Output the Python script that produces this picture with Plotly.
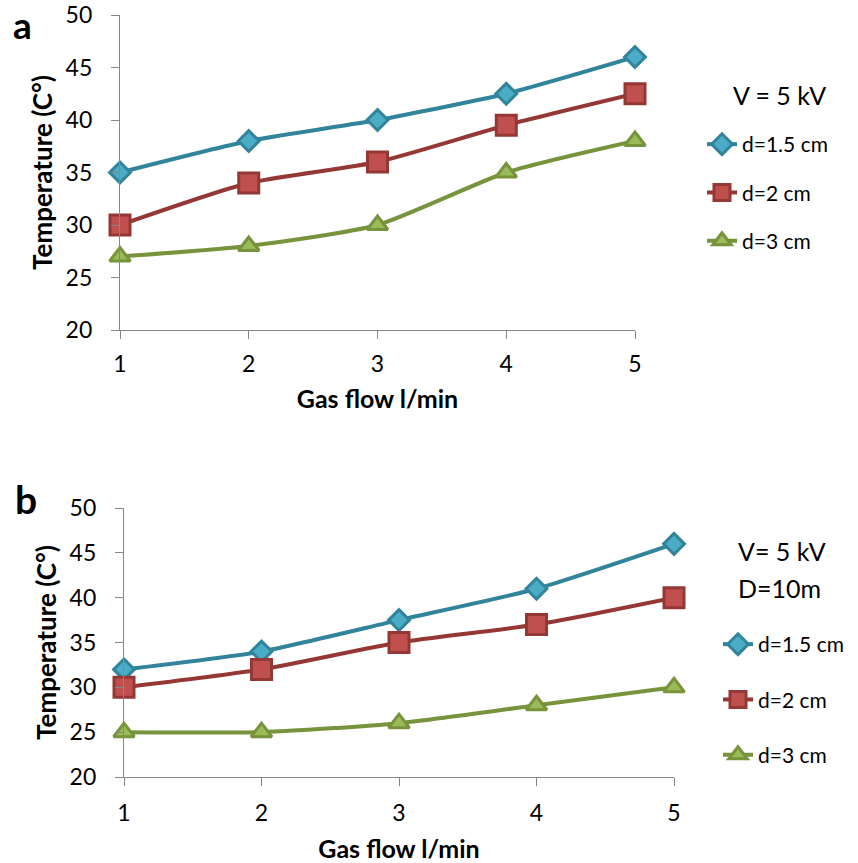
import plotly.graph_objects as go

gas_flow = [1, 2, 3, 4, 5]
series_names = ["d=1.5 cm", "d=2 cm", "d=3 cm"]

a_d15 = [35, 38, 40, 42.5, 46]
a_d2 = [30, 34, 36, 39.5, 42.5]
a_d3 = [27, 28, 30, 35, 38]

b_d15 = [32, 34, 37.5, 41, 46]
b_d2 = [30, 32, 35, 37, 40]
b_d3 = [25, 25, 26, 28, 30]

y_ticks = [20, 25, 30, 35, 40, 45, 50]

FONT = "Lato"
line_colors = ["#31849B", "#953735", "#77933C"]
fill_colors = ["#4BACC6", "#C0504D", "#9BBB59"]
symbols = ["diamond", "square", "triangle-up"]
sizes = [16, 20, 18]

W, H = 858, 863

def px(x):
    return x / W

def py(y):
    return 1 - y / H

fig = go.Figure()

def add_panel(data, xa, ya, legend):
    for i, (name, vals) in enumerate(zip(series_names, data)):
        fig.add_trace(go.Scatter(
            x=gas_flow, y=vals, name=name, mode="lines+markers",
            xaxis=xa, yaxis=ya, legend=legend, legendgroup=legend + str(i),
            line=dict(color=line_colors[i], width=4, shape="spline", smoothing=0.6),
            marker=dict(symbol=symbols[i], size=sizes[i], color=fill_colors[i],
                        line=dict(color=line_colors[i], width=3)),
            cliponaxis=False,
        ))

add_panel([a_d15, a_d2, a_d3], "x", "y", "legend")
add_panel([b_d15, b_d2, b_d3], "x2", "y2", "legend2")

axis_common = dict(showline=True, linecolor="#868686", linewidth=1.3,
                   ticks="outside", tickcolor="#868686", ticklen=8, tickwidth=1.3,
                   showgrid=False, zeroline=False, automargin=False,
                   tickfont=dict(family=FONT, size=23, color="#000"))

def x_title(standoff):
    return dict(text="<b>Gas flow l/min</b>", font=dict(family=FONT, size=25, color="#000"),
                standoff=standoff)

ya = dict(axis_common, range=[20, 50], tickvals=y_ticks,
          title=dict(text="<b>Temperature (C°)</b>", font=dict(family=FONT, size=26, color="#000"),
                     standoff=5))

fig.update_layout(
    width=W, height=H,
    margin=dict(l=0, r=0, t=0, b=0),
    paper_bgcolor="white", plot_bgcolor="white",
    showlegend=True,
    xaxis=dict(axis_common, range=[1, 5], tickvals=gas_flow, title=x_title(14),
               domain=[px(120), px(635)], anchor="y", ticklabelstandoff=5),
    yaxis=dict(ya, domain=[py(330), py(15)], anchor="x", ticklabelstandoff=14),
    xaxis2=dict(axis_common, range=[1, 5], tickvals=gas_flow, title=x_title(19),
                domain=[px(124), px(674)], anchor="y2", ticklabelstandoff=7),
    yaxis2=dict(ya, domain=[py(777), py(508)], anchor="x2", ticklabelstandoff=14),
    legend=dict(x=px(702), y=py(124), xanchor="left", yanchor="top",
                font=dict(family=FONT, size=21, color="#000"),
                tracegroupgap=18, bgcolor="rgba(0,0,0,0)", itemsizing="trace"),
    legend2=dict(x=px(718), y=py(624), xanchor="left", yanchor="top",
                 font=dict(family=FONT, size=21, color="#000"),
                 tracegroupgap=25, bgcolor="rgba(0,0,0,0)", itemsizing="trace"),
    annotations=[
        dict(text="<b>a</b>", x=px(22), y=1, xref="paper", yref="paper",
             xanchor="center", yanchor="top",
             showarrow=False, font=dict(family=FONT, size=37, color="#000")),
        dict(text="<b>b</b>", x=px(26), y=py(499), xref="paper", yref="paper",
             xanchor="center", yanchor="middle",
             showarrow=False, font=dict(family=FONT, size=39, color="#000")),
        dict(text="V = 5 kV", x=px(731), y=py(95), xref="paper", yref="paper",
             xanchor="left", yanchor="middle", showarrow=False,
             font=dict(family=FONT, size=25, color="#000")),
        dict(text="V= 5 kV", x=px(736), y=py(551), xref="paper", yref="paper",
             xanchor="left", yanchor="middle", showarrow=False,
             font=dict(family=FONT, size=25, color="#000")),
        dict(text="D=10m", x=px(736), y=py(588), xref="paper", yref="paper",
             xanchor="left", yanchor="middle", showarrow=False,
             font=dict(family=FONT, size=25, color="#000")),
    ],
)

fig.write_html("out.html", config={"displayModeBar": False},
               post_script="document.body.style.margin='0';document.body.style.overflow='hidden';")
